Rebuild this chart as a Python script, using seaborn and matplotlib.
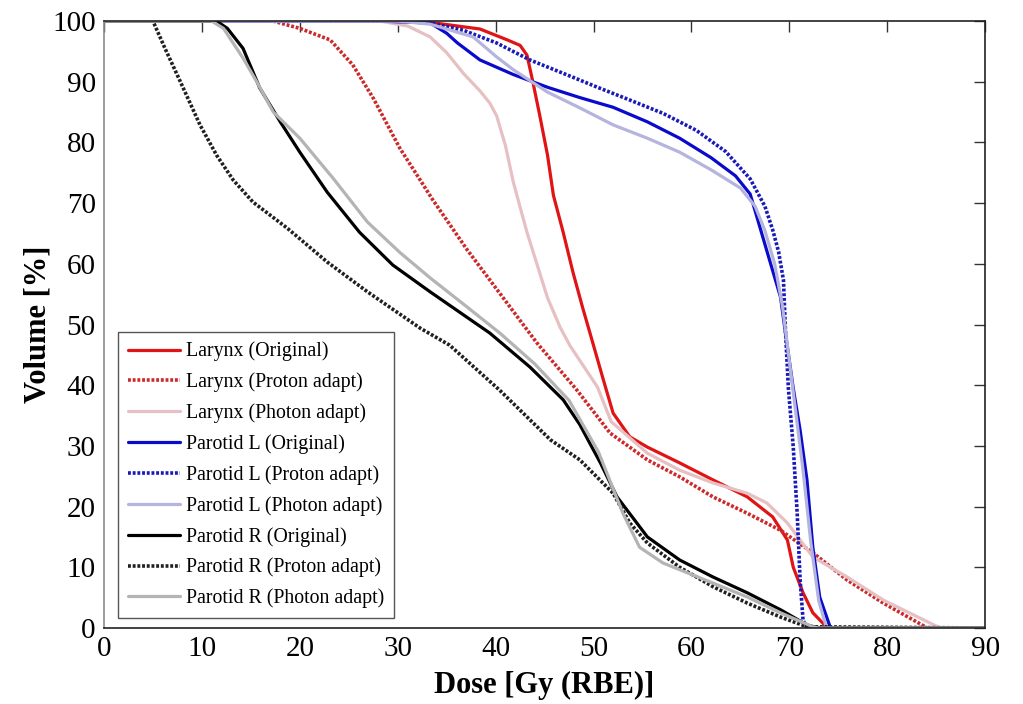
import numpy as np
import pandas as pd
import matplotlib
matplotlib.use("Agg")
import matplotlib.pyplot as plt
import seaborn as sns

# Dose-volume histogram samples: dose in Gy (RBE), volume in %
larynx_orig_dose = [0, 30, 33.3, 38.4, 41.2, 42.5, 43.2, 43.8, 44.5, 45.3, 45.9, 46.9, 47.9, 48.9, 49.6,
                    51.0, 52.0, 53.7, 55.5, 58.8, 62.2, 65.7, 68.3, 69.8, 70.4, 71.4, 72.4, 73.9, 90]
larynx_orig_vol = [100, 100, 99.8, 98.7, 96.9, 96.0, 94.4, 90.0, 84.5, 77.9, 71.3, 65.2, 58.6, 52.7, 48.8,
                   40.9, 35.4, 31.5, 29.8, 27.2, 24.4, 21.6, 18.3, 14.5, 10.0, 5.8, 2.5, 0, 0]

larynx_proton_dose = [0, 17.3, 20.0, 23.1, 25.4, 27.5, 30.2, 33.6, 37.1, 40.4, 44.2, 48.3, 51.7, 55.5,
                      58.8, 62.2, 65.7, 69.1, 72.4, 75.9, 79.6, 84.1, 90]
larynx_proton_vol = [100, 100, 98.8, 96.9, 92.8, 87.3, 79.1, 70.5, 62.3, 55.2, 47.0, 39.2, 32.1, 27.7,
                     24.9, 21.6, 18.9, 16.1, 12.4, 7.9, 4.1, 0, 0]

larynx_photon_dose = [0, 28.2, 31.0, 33.3, 35.0, 36.7, 38.4, 39.4, 40.1, 41.0, 41.8, 43.2, 45.3, 46.6,
                      47.6, 50.4, 51.8, 55.5, 58.8, 62.2, 65.7, 67.7, 69.8, 72.4, 75.9, 79.6, 85.4, 90]
larynx_photon_vol = [100, 100, 99.2, 97.4, 94.8, 91.4, 88.5, 86.5, 84.4, 79.5, 73.5, 65.2, 54.4, 49.5,
                     46.5, 39.7, 34.0, 28.8, 26.0, 23.9, 22.2, 20.6, 17.3, 11.7, 8.4, 4.6, 0, 0]

parotid_l_orig_dose = [0, 28.2, 33.3, 35.0, 36.1, 38.4, 41.8, 45.3, 48.6, 52.0, 55.5, 58.8, 62.0, 64.5,
                       66.0, 67.0, 68.0, 69.1, 69.8, 70.4, 71.1, 71.8, 72.4, 73.1, 74.2, 90]
parotid_l_orig_vol = [100, 100, 99.7, 98.0, 96.4, 93.6, 91.2, 89.1, 87.4, 85.8, 83.4, 80.7, 77.5, 74.5,
                      71.5, 66.0, 60.5, 54.5, 46.3, 39.5, 32.6, 24.4, 13.3, 5.1, 0, 0]

parotid_l_proton_dose = [0, 30.0, 33.3, 36.7, 40.1, 43.5, 46.9, 50.4, 53.7, 57.1, 60.5, 63.5, 66.0, 67.5,
                         68.3, 68.9, 69.4, 69.6, 69.9, 70.4, 70.8, 71.1, 71.4, 71.8, 90]
parotid_l_proton_vol = [100, 100, 99.7, 98.5, 96.4, 93.6, 91.4, 89.1, 87.0, 84.8, 82.0, 78.5, 74.0, 69.5,
                        65.6, 62.0, 57.3, 49.1, 39.5, 29.8, 18.9, 7.9, 1.3, 0, 0]

parotid_l_photon_dose = [0, 30.0, 33.3, 37.7, 40.1, 41.8, 45.3, 48.6, 52.0, 55.5, 58.8, 62.0, 65.0, 66.5,
                         67.5, 68.5, 69.3, 70.0, 70.7, 71.4, 72.2, 73.0, 73.8, 90]
parotid_l_photon_vol = [100, 100, 99.5, 97.4, 94.1, 92.0, 88.3, 85.7, 82.9, 80.7, 78.4, 75.5, 72.5, 69.5,
                        65.5, 60.0, 53.0, 44.0, 35.0, 26.0, 14.0, 4.5, 0, 0]

parotid_r_orig_dose = [0, 11.5, 12.6, 14.2, 15.9, 18.0, 20.0, 22.8, 26.1, 29.5, 33.3, 39.4, 43.5, 46.9,
                       48.6, 50.7, 52.4, 55.5, 58.8, 62.2, 65.7, 69.1, 71.8, 73.0, 90]
parotid_r_orig_vol = [100, 100, 98.8, 95.5, 89.0, 83.4, 78.4, 71.8, 65.2, 59.8, 55.4, 48.6, 43.0, 37.6,
                      33.5, 27.2, 21.6, 15.0, 11.2, 8.4, 5.8, 3.0, 0.5, 0, 0]

parotid_r_proton_dose = [0, 5.0, 6.2, 7.8, 9.8, 11.5, 13.2, 15.2, 18.7, 22.8, 26.9, 32.3, 35.3, 40.4,
                         45.6, 48.6, 52.0, 53.7, 55.5, 58.8, 62.2, 65.7, 69.1, 71.8, 90]
parotid_r_proton_vol = [100, 100, 95.6, 90.0, 82.9, 77.9, 73.8, 70.2, 65.9, 60.3, 55.4, 49.4, 46.6, 39.2,
                        31.0, 27.7, 22.2, 17.3, 14.0, 10.0, 6.8, 4.1, 1.8, 0.2, 0]

parotid_r_photon_dose = [0, 11.0, 12.2, 14.2, 15.6, 17.3, 20.0, 23.4, 26.9, 30.2, 33.3, 37.0, 40.5, 44.0,
                         47.5, 50.5, 53.0, 54.7, 57.1, 62.2, 65.7, 69.1, 72.4, 73.0, 90]
parotid_r_photon_vol = [100, 100, 98.8, 93.9, 90.0, 85.0, 80.7, 74.1, 66.9, 61.9, 57.7, 53.0, 48.5, 43.5,
                        37.5, 29.0, 18.9, 13.3, 10.7, 7.4, 5.1, 2.5, 0.2, 0, 0]

series = [
    ("Larynx (Original)", larynx_orig_dose, larynx_orig_vol, "#e01414", "solid"),
    ("Larynx (Proton adapt)", larynx_proton_dose, larynx_proton_vol, "#cc2a2a", "dotted"),
    ("Larynx (Photon adapt)", larynx_photon_dose, larynx_photon_vol, "#e6c0c2", "solid"),
    ("Parotid L (Original)", parotid_l_orig_dose, parotid_l_orig_vol, "#0a0acc", "solid"),
    ("Parotid L (Proton adapt)", parotid_l_proton_dose, parotid_l_proton_vol, "#1a1ab8", "dotted"),
    ("Parotid L (Photon adapt)", parotid_l_photon_dose, parotid_l_photon_vol, "#b4b4de", "solid"),
    ("Parotid R (Original)", parotid_r_orig_dose, parotid_r_orig_vol, "#000000", "solid"),
    ("Parotid R (Proton adapt)", parotid_r_proton_dose, parotid_r_proton_vol, "#202020", "dotted"),
    ("Parotid R (Photon adapt)", parotid_r_photon_dose, parotid_r_photon_vol, "#b4b4b4", "solid"),
]

x_ticks = [0, 10, 20, 30, 40, 50, 60, 70, 80, 90]
y_ticks = [0, 10, 20, 30, 40, 50, 60, 70, 80, 90, 100]

sns.set_style("white")
plt.rcParams["font.family"] = ["Liberation Serif", "DejaVu Serif"]

fig = plt.figure(figsize=(10.23, 7.04), dpi=100)
ax = fig.add_axes([0.1017, 0.108, 0.8613, 0.862])

for label, dose, vol, color, style in series:
    df = pd.DataFrame({"dose": dose, "vol": vol})
    ls = (0, (0.8, 0.5)) if style == "dotted" else "-"
    lw = 2.6 if style == "dotted" else 2.3
    sns.lineplot(data=df, x="dose", y="vol", ax=ax, color=color, linestyle=ls,
                 linewidth=lw, label=label, estimator=None, sort=False)

ax.set_xlim(0, 90)
ax.set_ylim(0, 100)
ax.set_xticks(x_ticks)
ax.set_yticks(y_ticks)
ax.tick_params(axis="both", direction="in", length=8, width=1, labelsize=21,
               top=True, right=True, colors="#333333", labelcolor="black", pad=6)

for side in ["top", "right", "bottom"]:
    ax.spines[side].set_color("#222222")
    ax.spines[side].set_linewidth(1.2)
ax.spines["left"].set_color("#8c8c8c")
ax.spines["left"].set_linewidth(1.2)

ax.set_xlabel("Dose [Gy (RBE)]", fontsize=22, fontweight="bold", labelpad=6, color="black")
ax.set_ylabel("Volume [%]", fontsize=22, fontweight="bold", labelpad=0, color="black")

leg = ax.legend(loc="lower left", bbox_to_anchor=(0.016, 0.016), fontsize=14.3,
                frameon=True, fancybox=False, framealpha=1, edgecolor="#555555",
                handlelength=2.6, handletextpad=0.3, labelspacing=0.56, borderpad=0.5,
                borderaxespad=0)
leg.get_frame().set_linewidth(1.0)
for t in leg.get_texts():
    t.set_color("black")

fig.savefig("out.png", dpi=100)
